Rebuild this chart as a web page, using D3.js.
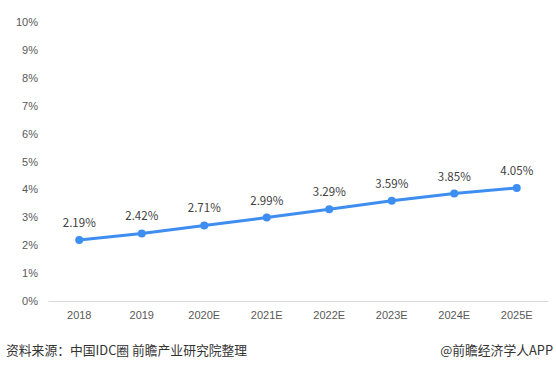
<!DOCTYPE html>
<html>
<head>
<meta charset="utf-8">
<script src="https://cdn.jsdelivr.net/npm/d3@7"></script>
<style>
  body { margin: 0; background: #fff; }
  svg { display: block; font-family: "Microsoft YaHei", "Noto Sans CJK SC", sans-serif; }
</style>
</head>
<body>
<div id="root"></div>
<script>
const years = ["2018", "2019", "2020E", "2021E", "2022E", "2023E", "2024E", "2025E"];
const shares = [2.19, 2.42, 2.71, 2.99, 3.29, 3.59, 3.85, 4.05];
const yTicks = [0, 1, 2, 3, 4, 5, 6, 7, 8, 9, 10];
const source = "资料来源：中国IDC圈 前瞻产业研究院整理";
const credit = "@前瞻经济学人APP";

const w = 556;
const h = 372;
const plotLeft = 48, plotRight = 548, plotTop = 22, plotBottom = 301;

const svg = d3.select("#root")
  .append("svg")
  .attr("width", w)
  .attr("height", h);

const xScale = d3.scaleBand()
  .domain(years)
  .range([plotLeft, plotRight]);

const yScale = d3.scaleLinear()
  .domain([0, 10])
  .range([plotBottom, plotTop]);

const yAxis = d3.axisLeft(yScale)
  .tickValues(yTicks)
  .tickFormat(d => d + "%")
  .tickSize(0)
  .tickPadding(10);

svg.append("g")
  .attr("transform", `translate(${plotLeft}, 0)`)
  .call(yAxis)
  .call(g => g.select(".domain").remove())
  .selectAll("text")
  .attr("font-size", 11)
  .attr("fill", "#595959");

const xAxis = d3.axisBottom(xScale)
  .tickSize(0)
  .tickPadding(10);

svg.append("g")
  .attr("transform", `translate(0, ${plotBottom})`)
  .call(xAxis)
  .call(g => g.select(".domain").attr("stroke", "#d9d9d9"))
  .selectAll("text")
  .attr("font-size", 11)
  .attr("fill", "#595959");

const cx = d => xScale(d) + xScale.bandwidth() / 2;

const line = d3.line()
  .x((d, i) => cx(years[i]))
  .y(d => yScale(d));

svg.append("path")
  .datum(shares)
  .attr("fill", "none")
  .attr("stroke", "#3d8ef0")
  .attr("stroke-width", 3)
  .attr("d", line);

svg.selectAll(".dot")
  .data(shares)
  .enter()
  .append("circle")
  .attr("class", "dot")
  .attr("cx", (d, i) => cx(years[i]))
  .attr("cy", d => yScale(d))
  .attr("r", 4)
  .attr("fill", "#3d8ef0");

svg.selectAll(".val")
  .data(shares)
  .enter()
  .append("text")
  .attr("class", "val")
  .attr("x", (d, i) => cx(years[i]))
  .attr("y", d => yScale(d) - 13)
  .attr("text-anchor", "middle")
  .attr("font-size", 11.5)
  .attr("fill", "#404040")
  .text(d => d.toFixed(2) + "%");

svg.append("text")
  .attr("x", 6)
  .attr("y", 355)
  .attr("font-size", 12.8)
  .attr("fill", "#333")
  .text(source);

svg.append("text")
  .attr("x", 553)
  .attr("y", 355)
  .attr("text-anchor", "end")
  .attr("font-size", 12.8)
  .attr("fill", "#333")
  .text(credit);
</script>
</body>
</html>
